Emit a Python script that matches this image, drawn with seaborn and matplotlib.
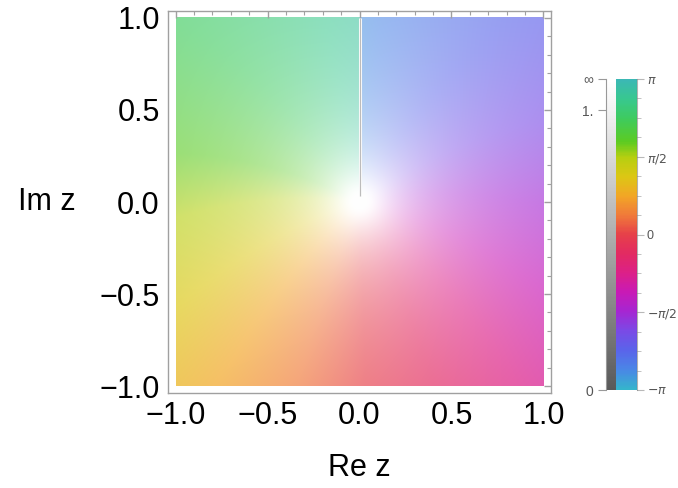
import numpy as np
import matplotlib
matplotlib.use("Agg")
import matplotlib.pyplot as plt
import seaborn as sns
from matplotlib.colors import to_rgb, LinearSegmentedColormap
from matplotlib.ticker import MultipleLocator

sns.set_style("white")
plt.rcParams["font.family"] = ["Liberation Sans", "DejaVu Sans"]

# ---- data ----
re_range = [-1.0, 1.0]
im_range = [-1.0, 1.0]
# f(z) = e^{-i b z} (i z)^(-a): branch point at z = 0, cut along the positive imaginary axis
power_a = 0.91
shift_b = 0.19
phase_c = 0.01          # in units of pi
cut_lo = 0.03

axis_ticks = [-1.0, -0.5, 0.0, 0.5, 1.0]
axis_tick_labels = ["\u22121.0", "\u22120.5", "0.0", "0.5", "1.0"]

# phase colour wheel (phase in units of pi)
phase_pos = [-1.0, -0.875, -0.75, -0.625, -0.5, -0.375, -0.25, -0.125, 0.0,
             0.125, 0.25, 0.375, 0.5, 0.6, 0.75, 0.875, 1.0]
phase_colors = ["#35b4cc", "#4a86e6", "#5a64ea", "#7a4ae6", "#a526d2", "#c81ab6",
                "#dc2088", "#e22a62", "#e6404a", "#f07a3a", "#f2a626", "#dcc714",
                "#b6cf10", "#5ccb22", "#3ecb5e", "#38c88e", "#3bb8b4"]
phase_ticks = [1.0, 0.5, 0.0, -0.5, -1.0]
phase_tick_labels = [r"$\pi$", r"$\pi/2$", "0", r"$-\pi/2$", r"$-\pi$"]

# magnitude legend (position from bottom, grey level)
mag_pos = [0.0, 0.9, 1.0]
mag_levels = [0.35, 0.95, 1.0]
mag_tick_labels = ["0", "1.", "\u221e"]


def f(z):
    return np.exp(-1j * shift_b * z + 1j * np.pi * phase_c) * (1j * z) ** (-power_a)


# ---- domain colouring ----
n = 700
xs = np.linspace(re_range[0], re_range[1], n)
ys = np.linspace(im_range[1], im_range[0], n)
X, Y = np.meshgrid(xs, ys)
with np.errstate(all="ignore"):
    W = f(X + 1j * Y)
ph = np.angle(W) / np.pi
mag = np.nan_to_num(np.abs(W), nan=1e6, posinf=1e6)

pc = np.array([to_rgb(c) for c in phase_colors])
rgb = np.stack([np.interp(ph, phase_pos, pc[:, k]) for k in range(3)], axis=-1)
white = 1 - np.exp(-0.478 * mag ** 0.83)
img = rgb * (1 - white[..., None]) + white[..., None]

fig = plt.figure(figsize=(6.78, 4.88), dpi=100)
ax = fig.add_axes([168 / 678, 95 / 488, 383 / 678, 382 / 488])
ax.imshow(img, extent=[re_range[0], re_range[1], im_range[0], im_range[1]],
          interpolation="bilinear", aspect="auto")
ax.plot([0, 0], [cut_lo, im_range[1]], color="white", lw=2.2, solid_capstyle="butt")
ax.plot([0, 0], [cut_lo, im_range[1]], color="#bcbcbc", lw=0.9, solid_capstyle="butt")

ax.set_xlim(-1.0408, 1.0408)
ax.set_ylim(-1.038, 1.038)
ax.set_xticks(axis_ticks)
ax.set_xticklabels(axis_tick_labels, fontsize=22, color="black")
ax.set_yticks(axis_ticks)
ax.set_yticklabels(axis_tick_labels, fontsize=22, color="black")
ax.xaxis.set_minor_locator(MultipleLocator(0.1))
ax.yaxis.set_minor_locator(MultipleLocator(0.1))
ax.tick_params(which="both", direction="in", top=True, right=True, color="#a0a0a0")
ax.tick_params(which="major", length=5, width=1, pad=6)
ax.tick_params(which="minor", length=3, width=0.8)
for s in ax.spines.values():
    s.set_visible(True)
    s.set_color("#a0a0a0")
    s.set_linewidth(1.0)

ax.set_xlabel("Re z", fontsize=22, color="black")
ax.xaxis.set_label_coords(0.5, -0.196)
ax.xaxis.label.set_va("center")
ax.set_ylabel("Im z", fontsize=22, rotation=0, color="black")
ax.yaxis.set_label_coords(-0.316, 0.5)
ax.yaxis.label.set_va("center")
ax.yaxis.label.set_ha("center")

# ---- legend strips ----
rows = 311
phase_cmap = LinearSegmentedColormap.from_list(
    "phase", list(zip([(p + 1) / 2 for p in phase_pos], phase_colors)))
gray_cmap = LinearSegmentedColormap.from_list(
    "mag", list(zip(mag_pos, [(g, g, g) for g in mag_levels])))

hax = fig.add_axes([616 / 678, 98 / 488, 21 / 678, 311 / 488])
sns.heatmap(np.linspace(1, -1, rows)[:, None], ax=hax, cmap=phase_cmap, vmin=-1, vmax=1,
            cbar=False, xticklabels=False, yticklabels=False)
hax.yaxis.tick_right()
hax.set_yticks([(1 - p) / 2 * rows for p in phase_ticks])
hax.set_yticklabels(phase_tick_labels, fontsize=9, color="#555555")
hax.set_yticks([(1 - p / 8) / 2 * rows for p in range(-8, 9)], minor=True)
hax.tick_params(axis="y", which="both", direction="out", right=True, left=False,
                color="#b8b8b8", labelright=True, labelleft=False)
hax.tick_params(axis="y", which="major", length=5, pad=2)
hax.tick_params(axis="y", which="minor", length=3)
hax.set_ylim(rows, 0)
hax.spines["right"].set_visible(True)
hax.spines["right"].set_color((0, 0, 0, 0.3))

gax = fig.add_axes([606 / 678, 98 / 488, 10 / 678, 311 / 488])
sns.heatmap(np.linspace(1, 0, rows)[:, None], ax=gax, cmap=gray_cmap, vmin=0, vmax=1,
            cbar=False, xticklabels=False, yticklabels=False)
gax.set_yticks([(1 - t) * rows for t in mag_pos])
gax.set_yticklabels(mag_tick_labels, fontsize=10, color="#555555")
gax.tick_params(axis="y", which="major", direction="out", left=True, length=6,
                color="#999999", pad=3)
gax.set_ylim(rows, 0)
gax.spines["left"].set_visible(True)
gax.spines["left"].set_color("#999999")

fig.savefig("out.png", dpi=100)
